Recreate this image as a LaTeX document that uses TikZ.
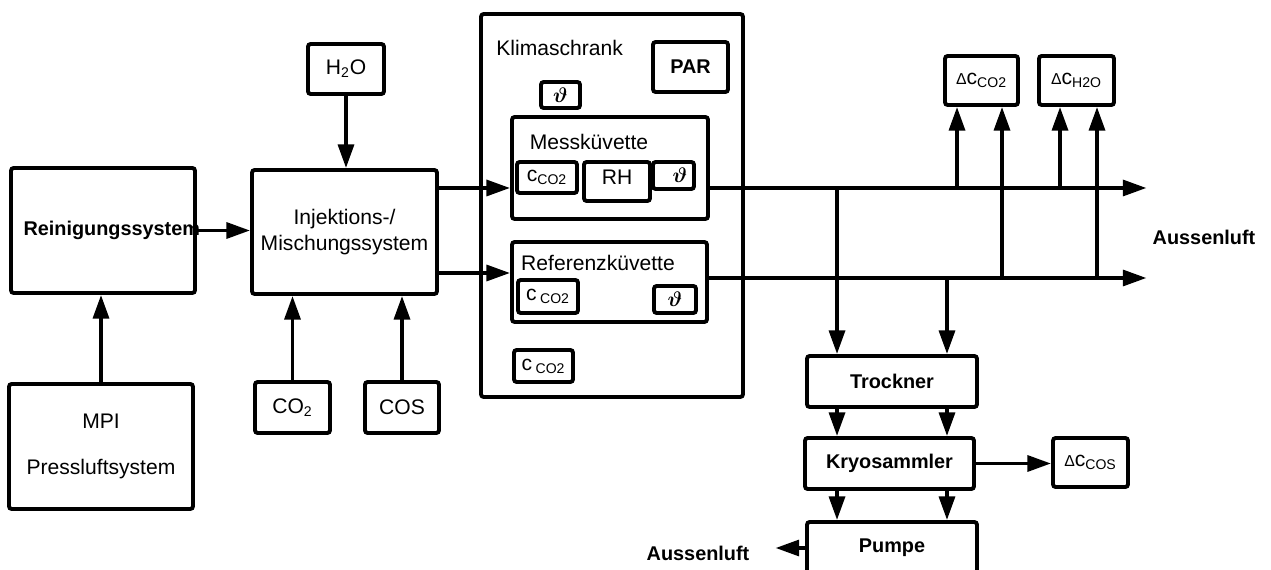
\documentclass[tikz,border=0pt]{standalone}
\usepackage{fontspec}
\setmainfont{Liberation Sans}
\usetikzlibrary{arrows.meta}

\tikzset{
    box/.style={draw, line width=2.2pt, rounded corners=1.5pt, inner sep=2pt},
    flow/.style={->, line width=2.2pt, line cap=round},
    heavy/.style={font=\fontsize{11.3}{14}\selectfont\bfseries},
}
\newcommand{\conc}[1]{c\textsubscript{#1}}
\newcommand{\dconc}[1]{{\small Δ}c\textsubscript{#1}}
\newcommand{\temp}{{\boldmath$\vartheta$}}

\begin{document}
\begin{tikzpicture}[x=0.02cm, y=-0.02cm, >={Triangle[length=13.5pt, width=9pt]},
    every node/.append style={font=\fontsize{12}{14.5}\selectfont}]
    \useasboundingbox (0,0) rectangle (1271,570);
    % gas supply
    \node [box, heavy, minimum width=3.68cm, minimum height=2.5cm] (rein) at (103,230.5) {\makebox[0pt]{\hspace{10pt}Reinigungssystem}};
    \node [box, align=center, minimum width=3.68cm, minimum height=2.5cm] (mpi) at (101,446.5) {MPI\\[12pt]Pressluftsystem};
    \node [box, align=center, minimum width=3.7cm, minimum height=2.48cm] (inj) at (344.5,232) {Injektions-/\\Mischungssystem};
    \node [box, minimum width=1.52cm, minimum height=1cm] (h2o) at (346,69) {H\textsubscript{2}O};
    \node [box, minimum width=1.5cm, minimum height=1.02cm] (co2) at (292.5,407.5) {CO\textsubscript{2}};
    \node [box, minimum width=1.48cm, minimum height=1.02cm] (cos) at (402,407.5) {COS};
    % climate chamber
    \node [box, minimum width=5.24cm, minimum height=7.66cm] (klima) at (612,205.5) {};
    \node [anchor=west, inner sep=0pt] (klimatext) at (496,48) {Klimaschrank};
    \node [box, heavy, minimum width=1.5cm, minimum height=1cm] (par) at (690.5,67) {PAR};
    \node [box, minimum width=0.78cm, minimum height=0.52cm] (klimatemp) at (560.5,95) {\temp};
    \node [box, minimum width=1.18cm, minimum height=0.64cm] (klimaco2) at (543.5,366) {c\,\textsubscript{CO2}};
    \node [box, minimum width=3.92cm, minimum height=2.04cm] (mess) at (610,168) {};
    \node (messtext) at (589,142) {Messküvette};
    \node [box, minimum width=1.2cm, minimum height=0.62cm] (messco2) at (547,177.5) {\conc{CO2}};
    \node [box, minimum width=1.32cm, minimum height=0.78cm, label={[anchor=north, yshift=-2pt]north:RH}] (messrh) at (617,181.5) {};
    \node [box, text width=0.55cm, align=right, minimum width=0.82cm, minimum height=0.54cm] (messtemp) at (673.5,175.5) {\temp};
    \node [box, minimum width=3.9cm, minimum height=1.6cm] (ref) at (609.5,282) {};
    \node (reftext) at (598,263) {Referenzküvette};
    \node [box, minimum width=1.2cm, minimum height=0.66cm] (refco2) at (548,296.5) {c\,\textsubscript{CO2}};
    \node [box, minimum width=0.84cm, minimum height=0.54cm] (reftemp) at (675,299.5) {\temp};
    % analysis
    \node [box, minimum width=1.46cm, minimum height=0.98cm] (dco2) at (981.5,80.5) {\dconc{CO2}};
    \node [box, minimum width=1.5cm, minimum height=0.98cm] (dh2o) at (1076.5,80.5) {\dconc{H2O}};
    \node [box, heavy, minimum width=3.4cm, minimum height=1.02cm] (troc) at (892,381.5) {Trockner};
    \node [box, heavy, minimum width=3.38cm, minimum height=1.02cm] (kryo) at (889.5,463.5) {Kryosammler};
    \node [box, minimum width=1.5cm, minimum height=0.98cm] (dcos) at (1090.5,462.5) {\dconc{COS}};
    \node [box, heavy, minimum width=3.4cm, minimum height=1.04cm] (pumpe) at (892,548) {Pumpe};
    \node [heavy] (aus1) at (1204,237) {Aussenluft};
    \node [heavy] (aus2) at (698,553) {Aussenluft};

    % supply lines
    \draw [flow] (mpi.north) -- (mpi.north |- rein.south);
    \draw [flow] (rein.east) -- (rein.east -| inj.west);
    \draw [flow] (h2o.south) -- (h2o.south |- inj.north);
    \draw [flow] (co2.north) -- (co2.north |- inj.south);
    \draw [flow] (cos.north) -- (cos.north |- inj.south);
    % cuvettes
    \coordinate (messin) at ([yshift=-4mm]mess.west);
    \coordinate (messout) at ([yshift=-4mm]mess.east);
    \coordinate (refin) at ([yshift=1.8mm]ref.west);
    \coordinate (refout) at ([yshift=0.8mm]ref.east);
    \draw [flow] (inj.east |- messin) -- (messin);
    \draw [flow] (inj.east |- refin) -- (refin);
    \draw [flow] (messout) -- (messout -| aus1.west);
    \draw [flow] (refout) -- (refout -| aus1.west);
    % taps to the analysers
    \coordinate (dco2a) at ([xshift=-4.9mm]dco2.south);
    \coordinate (dco2b) at ([xshift=4.1mm]dco2.south);
    \coordinate (dh2oa) at ([xshift=-3.3mm]dh2o.south);
    \coordinate (dh2ob) at ([xshift=4.1mm]dh2o.south);
    \draw [flow] (dco2a |- messout) -- (dco2a);
    \draw [flow] (dco2b |- refout) -- (dco2b);
    \draw [flow] (dh2oa |- messout) -- (dh2oa);
    \draw [flow] (dh2ob |- refout) -- (dh2ob);
    % sampling line
    \coordinate (trocleft) at ([xshift=-1.1cm]troc.north);
    \coordinate (trocright) at ([xshift=1.1cm]troc.north);
    \draw [flow] (trocleft |- messout) -- (trocleft);
    \draw [flow] (trocright |- refout) -- (trocright);
    \draw [flow] (trocleft |- troc.south) -- (trocleft |- kryo.north);
    \draw [flow] (trocright |- troc.south) -- (trocright |- kryo.north);
    \draw [flow] (trocleft |- kryo.south) -- (trocleft |- pumpe.north);
    \draw [flow] (trocright |- kryo.south) -- (trocright |- pumpe.north);
    \draw [flow] (kryo.east) -- (kryo.east -| dcos.west);
    \coordinate (aus2tip) at ([xshift=4mm]aus2.east);
    \draw [flow] (pumpe.west) -- (pumpe.west -| aus2tip);
\end{tikzpicture}
\end{document}
